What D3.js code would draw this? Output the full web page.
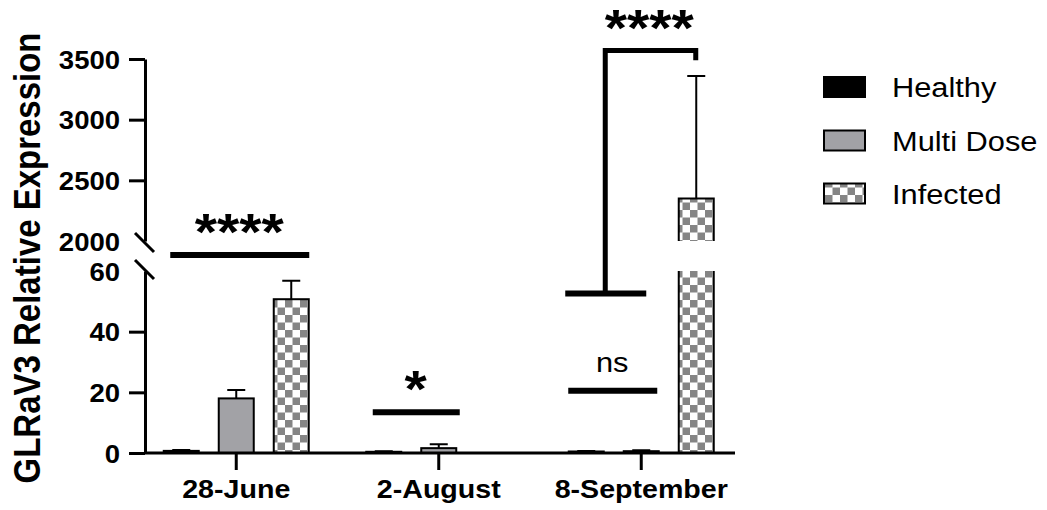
<!DOCTYPE html>
<html>
<head>
<meta charset="utf-8">
<script src="https://cdn.jsdelivr.net/npm/d3@7/dist/d3.min.js"></script>
<style>
  html, body { margin: 0; padding: 0; background: #ffffff; }
  svg { display: block; font-family: "Liberation Sans", Arial, sans-serif; }
</style>
</head>
<body>
<script>
// Groups and series
const categories = ["28-June", "2-August", "8-September"];
const seriesNames = ["Healthy", "Multi Dose", "Infected"];

// Mean relative expression and upper error (SD) per group
const healthyMean = [0.7, 0.4, 0.5];
const healthyErr = [0.3, 0.2, 0.2];
const multiMean = [18.0, 1.6, 0.6];
const multiErr = [2.8, 1.3, 0.3];
const infectedMean = [50.7, 0.0, 2350];
const infectedErr = [6.1, 0.0, 1010];

// Broken y axis: lower and upper segments
const lowerTicks = [0, 20, 40, 60];
const upperTicks = [2000, 2500, 3000, 3500];

// Significance labels
const sigLabels = ["****", "*", "ns", "****"];

const W = 1047, H = 510;
const STRETCH = 1.1; // horizontal text stretch

const svg = d3.select("body").append("svg")
  .attr("width", W).attr("height", H);

// checkerboard fill for the Infected series
const defs = svg.append("defs");
const pat = defs.append("pattern")
  .attr("id", "checker")
  .attr("patternUnits", "userSpaceOnUse")
  .attr("width", 15).attr("height", 15);
pat.append("rect").attr("width", 15).attr("height", 15).attr("fill", "#ffffff");
pat.append("rect").attr("x", 0).attr("y", 0).attr("width", 7.5).attr("height", 7.5).attr("fill", "#858585");
pat.append("rect").attr("x", 7.5).attr("y", 7.5).attr("width", 7.5).attr("height", 7.5).attr("fill", "#858585");

const fills = { "Healthy": "#000000", "Multi Dose": "#a2a2a6", "Infected": "url(#checker)" };
const means = { "Healthy": healthyMean, "Multi Dose": multiMean, "Infected": infectedMean };
const errs = { "Healthy": healthyErr, "Multi Dose": multiErr, "Infected": infectedErr };

// Scales
const x0 = d3.scaleBand().domain(categories).range([135, 742.5]).padding(0);
const xs = d3.scalePoint().domain(seriesNames).range([-55, 55]);
const barW = 35;
const yLow = d3.scaleLinear().domain([0, 60]).range([453, 271]);
const yUp = d3.scaleLinear().domain([2000, 3500]).range([241, 59]);
const yAt = v => (v >= 2000 ? yUp(v) : yLow(v));
const cx = c => x0(c) + x0.bandwidth() / 2;

const axisX = 145;

// stretched text helper
function sText(g, x, y, str, size, weight, anchor) {
  return g.append("text")
    .attr("transform", `translate(${x},${y}) scale(${STRETCH},1)`)
    .attr("font-size", size)
    .attr("font-weight", weight)
    .attr("text-anchor", anchor)
    .attr("fill", "#000")
    .text(str);
}

// ---- Bars ----
const gBars = svg.append("g");
categories.forEach((c, i) => {
  seriesNames.forEach(s => {
    const m = means[s][i], e = errs[s][i];
    const xc = cx(c) + xs(s);
    const xl = xc - barW / 2, xr = xc + barW / 2;
    if (m > 60) {
      // lower piece (0..60)
      gBars.append("rect").attr("x", xl).attr("y", yLow(60))
        .attr("width", barW).attr("height", yLow(0) - yLow(60))
        .attr("fill", fills[s]);
      gBars.append("path")
        .attr("d", `M${xl},${yLow(0)}V${yLow(60)}M${xr},${yLow(0)}V${yLow(60)}`)
        .attr("stroke", "#000").attr("stroke-width", 2).attr("fill", "none");
      // upper piece (2000..mean)
      gBars.append("rect").attr("x", xl).attr("y", yUp(m))
        .attr("width", barW).attr("height", yUp(2000) - yUp(m))
        .attr("fill", fills[s]);
      gBars.append("path")
        .attr("d", `M${xl},${yUp(2000)}V${yUp(m)}H${xr}V${yUp(2000)}`)
        .attr("stroke", "#000").attr("stroke-width", 2).attr("fill", "none");
    } else if (m > 0) {
      gBars.append("rect").attr("x", xl).attr("y", yLow(m))
        .attr("width", barW).attr("height", yLow(0) - yLow(m))
        .attr("fill", fills[s]).attr("stroke", "#000").attr("stroke-width", 2);
    }
    // error bar (upper only)
    if (e > 0) {
      const yb = yAt(m), yt = yAt(m + e);
      gBars.append("path")
        .attr("d", `M${xc},${yb}V${yt}M${xc - 9},${yt}H${xc + 9}`)
        .attr("stroke", "#000").attr("stroke-width", 2).attr("fill", "none");
    }
  });
});

// ---- Y axes (two segments) ----
function styleLeftAxis(g, hideTickAt) {
  g.select(".domain").attr("stroke-width", 3);
  g.selectAll(".tick line").attr("stroke-width", 3)
    .filter(d => d === hideTickAt).remove();
  g.selectAll(".tick text").each(function () {
    const t = d3.select(this);
    const xx = +t.attr("x");
    t.attr("x", 0).attr("dy", "0.36em")
      .attr("transform", `translate(${xx},0) scale(${STRETCH},1)`)
      .attr("font-size", 25).attr("font-weight", "bold")
      .attr("font-family", "Liberation Sans, Arial, sans-serif")
      .attr("fill", "#000");
  });
}
const fmt = d3.format("d");
const gLow = svg.append("g").attr("transform", `translate(${axisX},0)`)
  .call(d3.axisLeft(yLow).tickValues(lowerTicks).tickFormat(fmt)
    .tickSize(16).tickSizeOuter(0).tickPadding(9));
styleLeftAxis(gLow, 60);
const gUp = svg.append("g").attr("transform", `translate(${axisX},0)`)
  .call(d3.axisLeft(yUp).tickValues(upperTicks).tickFormat(fmt)
    .tickSize(16).tickSizeOuter(0).tickPadding(9));
styleLeftAxis(gUp, 2000);

// break marks
[[yUp(2000) + 2], [yLow(60) - 1]].forEach(([yy]) => {
  svg.append("line")
    .attr("x1", axisX - 10).attr("y1", yy - 10)
    .attr("x2", axisX + 9).attr("y2", yy + 9)
    .attr("stroke", "#000").attr("stroke-width", 3);
});

// ---- X axis ----
const gX = svg.append("g").attr("transform", `translate(0,${yLow(0)})`)
  .call(d3.axisBottom(x0).tickSize(17).tickSizeOuter(0).tickPadding(10));
gX.select(".domain").attr("d", `M${axisX},0H735`).attr("stroke-width", 3);
gX.selectAll(".tick line").attr("stroke-width", 3);
gX.selectAll(".tick text").each(function () {
  const t = d3.select(this);
  t.attr("y", 0).attr("dy", 0)
    .attr("transform", `translate(0,45) scale(${STRETCH},1)`)
    .attr("font-size", 26).attr("font-weight", "bold")
    .attr("font-family", "Liberation Sans, Arial, sans-serif")
    .attr("fill", "#000");
});

// ---- Y axis title ----
svg.append("text")
  .attr("transform", `translate(40,258) rotate(-90) scale(1,${STRETCH})`)
  .attr("text-anchor", "middle")
  .attr("font-size", 33).attr("font-weight", "bold")
  .text("GLRaV3 Relative Expression");

// ---- Significance annotations ----
const gSig = svg.append("g");
function hLine(x1, x2, y, w) {
  gSig.append("line").attr("x1", x1).attr("x2", x2).attr("y1", y).attr("y2", y)
    .attr("stroke", "#000").attr("stroke-width", w);
}
const starSize = 52;
const starLift = 5; // baseline offset above the line
// 28-June: Healthy vs Infected
{
  const c = cx("28-June"), y = yLow(65.3);
  hLine(c - 66, c + 73, y, 6);
  sText(gSig, c + 3, y - starLift, sigLabels[0], starSize, "bold", "middle");
}
// 2-August
{
  const c = cx("2-August"), y = yLow(13.4);
  hLine(c - 66, c + 21, y, 6);
  sText(gSig, c - 23, y - starLift, sigLabels[1], starSize, "bold", "middle");
}
// 8-September: Healthy vs Multi Dose (ns)
{
  const c = cx("8-September"), y = yLow(20.5);
  hLine(c - 73, c + 16, y, 6);
  sText(gSig, c - 29, y - 19, sigLabels[2], 28, "normal", "middle");
}
// 8-September: bracket to Infected
{
  const c = cx("8-September");
  const yBot = yLow(52.6), yTop = yUp(3570), yEnd = yUp(3490);
  hLine(c - 76, c + 5, yBot, 6);
  gSig.append("path")
    .attr("d", `M${c - 36},${yBot}V${yTop}H${c + 54.5}V${yEnd}`)
    .attr("stroke", "#000").attr("stroke-width", 5).attr("fill", "none")
    .attr("stroke-linejoin", "miter");
  sText(gSig, c + 8, yTop - starLift, sigLabels[3], starSize, "bold", "middle");
}

// ---- Legend ----
const gLeg = svg.append("g");
const legY = [87, 140.5, 193.5];
seriesNames.forEach((s, i) => {
  gLeg.append("rect")
    .attr("x", 824).attr("y", legY[i] - 10)
    .attr("width", 41).attr("height", 20)
    .attr("fill", fills[s]).attr("stroke", "#000").attr("stroke-width", 2);
  sText(gLeg, 892, legY[i] + 10, s, 28, "normal", "start");
});
</script>
</body>
</html>
